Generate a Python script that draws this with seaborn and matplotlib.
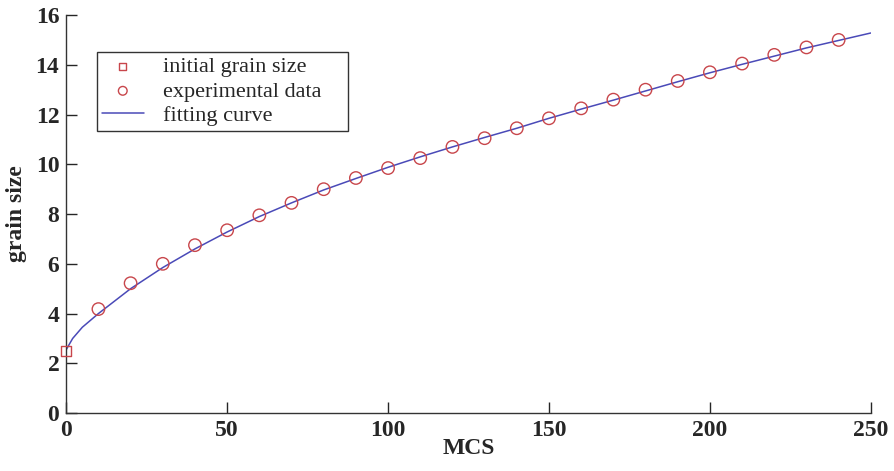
import numpy as np
import pandas as pd
import matplotlib
matplotlib.use("Agg")
import matplotlib.pyplot as plt
import seaborn as sns

# initial grain size
init_mcs  = [0]
init_size = [2.5]

# experimental data
exp_mcs  = [10, 20, 30, 40, 50, 60, 70, 80, 90, 100, 110, 120,
            130, 140, 150, 160, 170, 180, 190, 200, 210, 220, 230, 240]
exp_size = [4.18, 5.22, 6.0, 6.75, 7.35, 7.95, 8.45, 9.0, 9.45, 9.85, 10.25, 10.7,
            11.05, 11.45, 11.85, 12.25, 12.6, 13.0, 13.35, 13.7, 14.05, 14.4, 14.7, 15.0]

# fitting curve
fit_mcs  = [0, 2, 5, 10, 20, 30, 40, 50, 60, 70, 80, 90, 100, 110, 120, 130,
            140, 150, 160, 170, 180, 190, 200, 210, 220, 230, 240, 250]
fit_size = [2.55, 3.0, 3.45, 4.0, 5.0, 5.85, 6.6, 7.28, 7.9, 8.45, 8.97, 9.43, 9.88,
            10.3, 10.7, 11.08, 11.45, 11.85, 12.22, 12.58, 12.95, 13.32, 13.68,
            14.02, 14.35, 14.68, 14.98, 15.28]

RED  = "#c8464b"
BLUE = "#4a4ab8"

sns.set_style("ticks")
plt.rcParams['font.family'] = ['Liberation Serif', 'DejaVu Serif']

fig = plt.figure(figsize=(8.95, 4.71), dpi=100)
ax = fig.add_axes([0.074, 0.123, 0.899, 0.845])

sns.lineplot(x=fit_mcs, y=fit_size, ax=ax, color=BLUE, linewidth=1.1,
             label="fitting curve", zorder=2)
sns.scatterplot(x=exp_mcs, y=exp_size, ax=ax, marker="o", s=80,
                facecolor="none", edgecolor=RED, linewidth=1.0,
                label="experimental data", zorder=3)
sns.scatterplot(x=init_mcs, y=init_size, ax=ax, marker="s", s=55,
                facecolor="none", edgecolor=RED, linewidth=1.0,
                label="initial grain size", zorder=3, clip_on=False)

ax.set_xlim(0, 250)
ax.set_ylim(0, 16)
ax.set_xticks(np.arange(0, 251, 50))
ax.set_yticks(np.arange(0, 17, 2))
ax.tick_params(direction="in", length=8, width=1, labelsize=17, pad=5)
for lab in ax.get_xticklabels() + ax.get_yticklabels():
    lab.set_fontweight("bold")
for s in ["top", "right"]:
    ax.spines[s].set_visible(False)
for s in ["left", "bottom"]:
    ax.spines[s].set_linewidth(1.0)
    ax.spines[s].set_color("#333333")

ax.set_xlabel("MCS", fontsize=17, fontweight="bold", labelpad=-2)
ax.set_ylabel("grain size", fontsize=17, fontweight="bold", labelpad=6)

h, l = ax.get_legend_handles_labels()
order = [l.index("initial grain size"), l.index("experimental data"), l.index("fitting curve")]
leg = ax.legend([h[i] for i in order], [l[i] for i in order],
                loc="upper left", bbox_to_anchor=(0.0385, 0.907, 0.312, 0.0),
                mode="expand", markerscale=0.7,
                fontsize=16, frameon=True, fancybox=False, framealpha=1,
                edgecolor="#333333", borderpad=0.2, labelspacing=0.18,
                handlelength=1.9, handletextpad=0.85, borderaxespad=0)
leg.get_frame().set_linewidth(1.0)

fig.savefig("out.png", dpi=100)
